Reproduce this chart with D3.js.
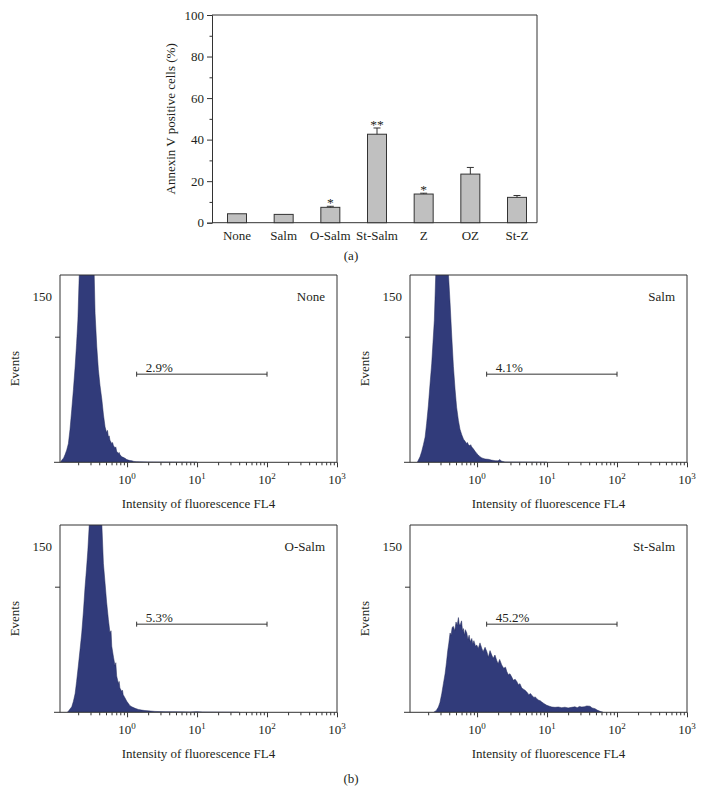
<!DOCTYPE html>
<html>
<head>
<meta charset="utf-8">
<script src="https://cdn.jsdelivr.net/npm/d3@7"></script>
<style>
  body { margin: 0; background: #fff; }
  text { font-family: "Liberation Serif", "DejaVu Serif", serif; fill: #231f20; }
</style>
</head>
<body>
<div id="chart"></div>
<script>
// (a) bar chart data
groups = ["None", "Salm", "O-Salm", "St-Salm", "Z", "OZ", "St-Z"];
means = [4.3, 4.0, 7.4, 42.6, 13.8, 23.4, 12.2];
errs = [0, 0, 0.5, 3.0, 0.4, 3.2, 0.9];
stars = ["", "", "*", "**", "*", "", ""];
barTicks = [0, 20, 40, 60, 80, 100];
barMinorTicks = [10, 30, 50, 70, 90];

// (b) flow cytometry histograms: [intensity, events]
noneHist = [[0.112,0],[0.117,2],[0.124,4],[0.130,7],[0.137,11],[0.145,17],[0.153,30],[0.162,48],[0.171,66],[0.181,87],[0.190,108],[0.198,129],[0.206,165],[0.22,215],[0.25,260],[0.28,250],[0.31,220],[0.335,185],[0.349,135],[0.369,105],[0.389,84],[0.41,70],[0.436,57],[0.46,43],[0.485,32],[0.51,27],[0.525,29],[0.541,23],[0.555,24],[0.57,20],[0.604,17],[0.62,18],[0.64,15],[0.675,13],[0.69,14],[0.71,10],[0.752,8],[0.77,9],[0.79,7],[0.839,5],[0.88,4.5],[0.935,3.6],[0.99,2.5],[1.045,2],[1.1,1.6],[1.167,1.5],[1.25,0.8],[1.35,0.6],[1.5,0.4],[2,0.3],[3,0.2],[5,0.1],[10,0]];
salmHist = [[0.14,0],[0.145,2],[0.153,5],[0.162,10],[0.171,16],[0.181,23],[0.19,35],[0.201,51],[0.212,70],[0.225,90],[0.235,110],[0.245,129],[0.257,172],[0.28,230],[0.31,265],[0.34,250],[0.37,210],[0.389,172],[0.411,145],[0.435,114],[0.459,87],[0.485,66],[0.51,50],[0.541,38],[0.57,30],[0.604,25],[0.64,21],[0.674,19],[0.71,17],[0.73,18],[0.751,16],[0.79,15],[0.81,16],[0.84,14],[0.89,12],[0.936,10],[0.99,8],[1.04,6.7],[1.1,5],[1.17,4],[1.3,3],[1.45,2.7],[1.6,2],[1.81,1.5],[2.0,1.3],[2.1,2.5],[2.25,1],[2.5,0.3],[3,0.2],[6,0.1],[10,0]];
oSalmHist = [[0.14,0],[0.145,1],[0.153,3],[0.162,5],[0.171,10],[0.181,17],[0.19,28],[0.201,42],[0.212,56],[0.225,72],[0.238,92],[0.251,114],[0.263,130],[0.275,147],[0.289,172],[0.31,230],[0.35,270],[0.39,245],[0.42,200],[0.435,172],[0.459,135],[0.485,117],[0.51,100],[0.541,84],[0.57,72],[0.59,74],[0.604,60],[0.64,50],[0.674,42],[0.69,45],[0.71,33],[0.752,26],[0.77,28],[0.79,22],[0.839,19],[0.86,20],[0.88,16],[0.935,13],[0.99,10],[1.045,8],[1.1,6],[1.167,5],[1.3,3.6],[1.45,2.6],[1.62,2],[1.8,1.6],[2.02,1.3],[2.5,0.8],[3.5,0.5],[5,0.4],[8,0.3],[10,0.6],[12,0.2],[20,0.1],[40,0]];
stSalmHist = [[0.24,0],[0.26,1.5],[0.28,4.8],[0.295,9],[0.313,17],[0.33,26],[0.349,35],[0.365,45],[0.381,56],[0.395,63],[0.411,72],[0.425,70],[0.44,77],[0.458,78],[0.48,74],[0.5,82],[0.52,79],[0.541,86],[0.556,80],[0.572,79],[0.6,83],[0.62,74],[0.637,76],[0.66,70],[0.68,75],[0.713,72],[0.74,66],[0.77,70],[0.8,64],[0.84,67],[0.87,62],[0.9,65],[0.95,60],[0.99,61],[1.04,58],[1.1,63],[1.17,58],[1.22,55],[1.3,59],[1.38,55],[1.45,50],[1.53,56],[1.62,52],[1.7,49],[1.8,52],[1.91,47],[2.0,44],[2.1,48],[2.25,43],[2.4,40],[2.55,41],[2.66,37],[2.8,34],[2.95,35],[3.13,32],[3.3,29],[3.5,30],[3.69,28],[3.9,25],[4.1,26],[4.35,22],[4.6,21],[4.85,20],[5.13,18.5],[5.5,16],[5.8,17],[6.04,15.5],[6.5,13.5],[6.8,14],[7.12,12.4],[7.6,11],[8.0,10.5],[8.4,9.4],[9.0,8],[9.9,6.4],[10.8,5.5],[11.7,4.8],[13,4.5],[14.5,4.8],[16.2,4.2],[18,4.6],[20,4],[22.5,4.5],[25,5],[27,4.2],[29,5.3],[31.3,4.8],[34,5],[37,5.8],[41.1,5.5],[44,4],[48.5,3.3],[52,2],[57.2,0.9],[63,0]];

panelNames = ["None", "Salm", "O-Salm", "St-Salm"];
panelHists = [noneHist, salmHist, oSalmHist, stSalmHist];
gatePercents = ["2.9%", "4.1%", "5.3%", "45.2%"];
gateRange = [1.37, 100];
gateLevel = 80;
decadeTicks = [1, 10, 100, 1000];
histYLabels = [150];
histYTicks = [114];

width = 703;
height = 794;
fontSize = "13px";
lineColour = "#333";
textColour = "#231f20";
histColour = "#313b7a";

svg = d3.select("#chart").append("svg")
    .attr("width", width)
    .attr("height", height);

// ---------- (a) bar chart ----------
barLeft = 212; barRight = 537; barTop = 15; barBottom = 222.7;
yBar = d3.scaleLinear().domain([0, 100]).range([barBottom, barTop]);
xBar = d3.scalePoint().domain(groups).range([237, 517]);
barWidth = 19;

bar = svg.append("g");
// frame
bar.append("path")
    .attr("d", `M${barLeft},${barTop}H${barRight}V${barBottom}H${barLeft}`)
    .attr("fill", "none").attr("stroke", lineColour);

yAxis = bar.append("g")
    .attr("transform", `translate(${barLeft},0)`)
    .call(d3.axisLeft(yBar).tickValues(barTicks).tickSize(5).tickPadding(3));
yAxis.select(".domain").attr("stroke", lineColour);
yAxis.selectAll("line").attr("stroke", lineColour);
yAxis.selectAll("text").style("font-size", fontSize).attr("fill", textColour)
    .style("font-family", "Liberation Serif");
yMinor = bar.append("g")
    .attr("transform", `translate(${barLeft},0)`)
    .call(d3.axisLeft(yBar).tickValues(barMinorTicks).tickSize(2.5).tickFormat(""));
yMinor.select(".domain").remove();
yMinor.selectAll("line").attr("stroke", lineColour);

bar.selectAll("rect.bar")
    .data(groups).enter()
    .append("rect")
    .attr("class", "bar")
    .attr("x", (d) => xBar(d) - barWidth / 2)
    .attr("y", (d, i) => yBar(means[i]))
    .attr("width", barWidth)
    .attr("height", (d, i) => barBottom - yBar(means[i]))
    .attr("fill", "#c0c0c0")
    .attr("stroke", lineColour)
    .attr("stroke-width", 1);

// error bars (upper half only)
errG = bar.selectAll("g.err")
    .data(groups.filter((d, i) => errs[i] > 0)).enter()
    .append("g").attr("class", "err");
errTop = (d) => {
    const i = groups.indexOf(d);
    return yBar(means[i] + errs[i]);
};
errG.append("line")
    .attr("x1", (d) => xBar(d)).attr("x2", (d) => xBar(d))
    .attr("y1", (d) => yBar(means[groups.indexOf(d)]))
    .attr("y2", errTop)
    .attr("stroke", lineColour);
errG.append("line")
    .attr("x1", (d) => xBar(d) - 3.5).attr("x2", (d) => xBar(d) + 3.5)
    .attr("y1", errTop)
    .attr("y2", errTop)
    .attr("stroke", lineColour);

bar.selectAll("text.star")
    .data(groups).enter()
    .append("text")
    .attr("class", "star")
    .attr("x", (d) => xBar(d))
    .attr("y", (d, i) => yBar(means[i] + errs[i]) + 1)
    .attr("text-anchor", "middle")
    .attr("fill", textColour)
    .style("font-size", "13.5px")
    .text((d, i) => stars[i]);

bar.selectAll("text.cat")
    .data(groups).enter()
    .append("text")
    .attr("class", "cat")
    .attr("x", (d) => xBar(d))
    .attr("y", barBottom + 17)
    .attr("text-anchor", "middle")
    .style("font-size", fontSize)
    .text((d) => d);

bar.append("text")
    .attr("transform", `translate(175,${(barTop + barBottom) / 2}) rotate(-90)`)
    .attr("text-anchor", "middle")
    .style("font-size", fontSize)
    .text("Annexin V positive cells (%)");

svg.append("text").attr("x", 351).attr("y", 260)
    .attr("text-anchor", "middle").style("font-size", fontSize).text("(a)");

// ---------- (b) histograms ----------
panelLefts = [60, 410, 60, 410];
panelTops = [275, 275, 525, 525];
plotW = 277;
plotH = 187.3;

minorTicks = [];
[0.1, 1, 10, 100].forEach((dec) => {
    for (let k = 2; k <= 9; k++) minorTicks.push(dec * k);
});

panelNames.forEach((name, p) => {
    const left = panelLefts[p];
    const ptop = panelTops[p];
    const x = d3.scaleLog().domain([0.11, 1000]).range([left, left + plotW]);
    const y = d3.scaleLinear().domain([0, 170]).range([ptop + plotH, ptop]);
    const base = ptop + plotH;
    const g = svg.append("g");

    const clipId = "clip" + p;
    g.append("clipPath").attr("id", clipId)
        .append("rect")
        .attr("x", left).attr("y", ptop)
        .attr("width", plotW).attr("height", plotH);

    const area = d3.area()
        .x((d) => x(d[0]))
        .y0(base)
        .y1((d) => y(d[1]));
    g.append("path")
        .datum(panelHists[p])
        .attr("clip-path", `url(#${clipId})`)
        .attr("d", area)
        .attr("fill", histColour)
        .attr("stroke", "#232a5c")
        .attr("stroke-width", 0.5);

    // frame: top, left and right sides
    g.append("path")
        .attr("d", `M${left},${base}V${ptop}H${left + plotW}V${base}`)
        .attr("fill", "none").attr("stroke", lineColour);
    g.append("line")
        .attr("x1", left - 6).attr("x2", left + plotW)
        .attr("y1", base).attr("y2", base)
        .attr("stroke", lineColour);

    // x axis ticks
    const xMinor = g.append("g").attr("transform", `translate(0,${base})`)
        .call(d3.axisBottom(x).tickValues(minorTicks.filter((v) => v > 0.11 && v < 1000))
            .tickSize(3).tickFormat(""));
    xMinor.select(".domain").remove();
    xMinor.selectAll("line").attr("stroke", lineColour);
    const xMajor = g.append("g").attr("transform", `translate(0,${base})`)
        .call(d3.axisBottom(x).tickValues(decadeTicks).tickSize(5).tickFormat(""));
    xMajor.select(".domain").remove();
    xMajor.selectAll("line").attr("stroke", lineColour);
    const lbl = g.selectAll("text.dec")
        .data(decadeTicks).enter()
        .append("text")
        .attr("class", "dec")
        .attr("x", (d) => x(d))
        .attr("y", base + 22)
        .attr("text-anchor", "middle")
        .style("font-size", fontSize);
    lbl.append("tspan").text("10");
    lbl.append("tspan").attr("dy", -5).style("font-size", "9px")
        .text((d) => Math.round(Math.log10(d)));

    // y axis
    const yAx = g.append("g").attr("transform", `translate(${left},0)`)
        .call(d3.axisLeft(y).tickValues(histYTicks).tickSize(5).tickFormat(""));
    yAx.select(".domain").remove();
    yAx.selectAll("line").attr("stroke", lineColour);
    g.selectAll("text.ylab")
        .data(histYLabels).enter()
        .append("text")
        .attr("class", "ylab")
        .attr("x", left - 8)
        .attr("y", (d) => y(d) + 4)
        .attr("text-anchor", "end")
        .style("font-size", fontSize)
        .text((d) => d);

    // gate marker
    const gy = y(gateLevel);
    g.append("line")
        .attr("x1", x(gateRange[0])).attr("x2", x(gateRange[1]))
        .attr("y1", gy).attr("y2", gy).attr("stroke", lineColour);
    gateRange.forEach((v) => {
        g.append("line")
            .attr("x1", x(v)).attr("x2", x(v))
            .attr("y1", gy - 2.5).attr("y2", gy + 2.5).attr("stroke", lineColour);
    });
    g.append("text")
        .attr("x", x(gateRange[0]) + 9)
        .attr("y", gy - 2)
        .style("font-size", fontSize)
        .text(gatePercents[p]);

    // panel name
    g.append("text")
        .attr("x", left + plotW - 12)
        .attr("y", y(150) + 4)
        .attr("text-anchor", "end")
        .style("font-size", fontSize)
        .text(name);

    // axis titles
    g.append("text")
        .attr("transform", `translate(${left - 41},${(ptop + base) / 2}) rotate(-90)`)
        .attr("text-anchor", "middle")
        .style("font-size", fontSize)
        .text("Events");
    g.append("text")
        .attr("x", left + plotW / 2)
        .attr("y", base + 46)
        .attr("text-anchor", "middle")
        .style("font-size", fontSize)
        .text("Intensity of fluorescence FL4");
});

svg.append("text").attr("x", 351).attr("y", 783)
    .attr("text-anchor", "middle").style("font-size", fontSize).text("(b)");
</script>
</body>
</html>
